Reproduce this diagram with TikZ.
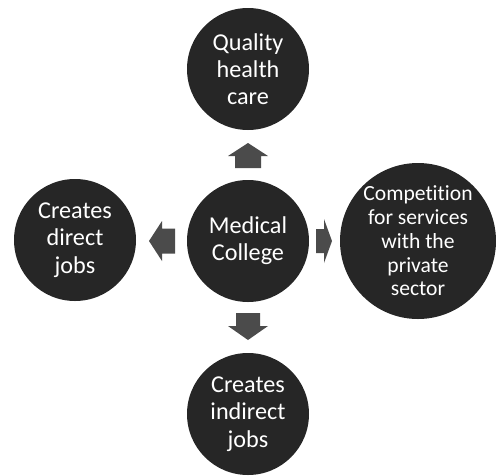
\documentclass[tikz,border=0pt]{standalone}
\usepackage{fontspec}
\setmainfont{Carlito}[Ligatures={NoCommon}]
\definecolor{circfill}{HTML}{262626}
\definecolor{arrfill}{HTML}{4B4B4B}
\begin{document}
\begin{tikzpicture}[x=1pt,y=-1pt,
  bubble/.style={circle, fill=circfill, draw=none, text=white, align=center, inner sep=0pt,
    font=\fontsize{24.2}{27.3}\selectfont},
  bigbubble/.style={bubble, font=\fontsize{21.6}{23.8}\selectfont},
  blockarrow/.style={fill=arrfill, draw=none}]
\useasboundingbox (0,0) rectangle (496,475);
\node[bubble, minimum size=122pt] (center) at (248,241) {Medical\\College};
\node[bubble, minimum size=122pt] (top) at (248,69) {Quality\\health\\care};
\node[bubble, minimum size=122pt] (left) at (75,240) {Creates\\direct\\jobs};
\node[bigbubble, minimum size=156pt] (right) at (418,241) {Competition\\for services\\with the\\private\\sector};
\node[bubble, minimum size=122pt] (bottom) at (248,414) {Creates\\indirect\\jobs};
% up arrow
\fill[blockarrow] (248,143) -- (268,156) -- (261,156) -- (261,168) -- (235,168) -- (235,156) -- (228,156) -- cycle;
% left arrow
\fill[blockarrow] (149,241) -- (162,221) -- (162,228.5) -- (175,228.5) -- (175,253.5) -- (162,253.5) -- (162,261) -- cycle;
% right arrow
\fill[blockarrow] (332,241) -- (324,219) -- (324,229) -- (316,229) -- (316,253) -- (324,253) -- (324,263) -- cycle;
% down arrow
\fill[blockarrow] (248,340) -- (268,326) -- (260,326) -- (260,313) -- (236,313) -- (236,326) -- (228,326) -- cycle;
\end{tikzpicture}
\end{document}
